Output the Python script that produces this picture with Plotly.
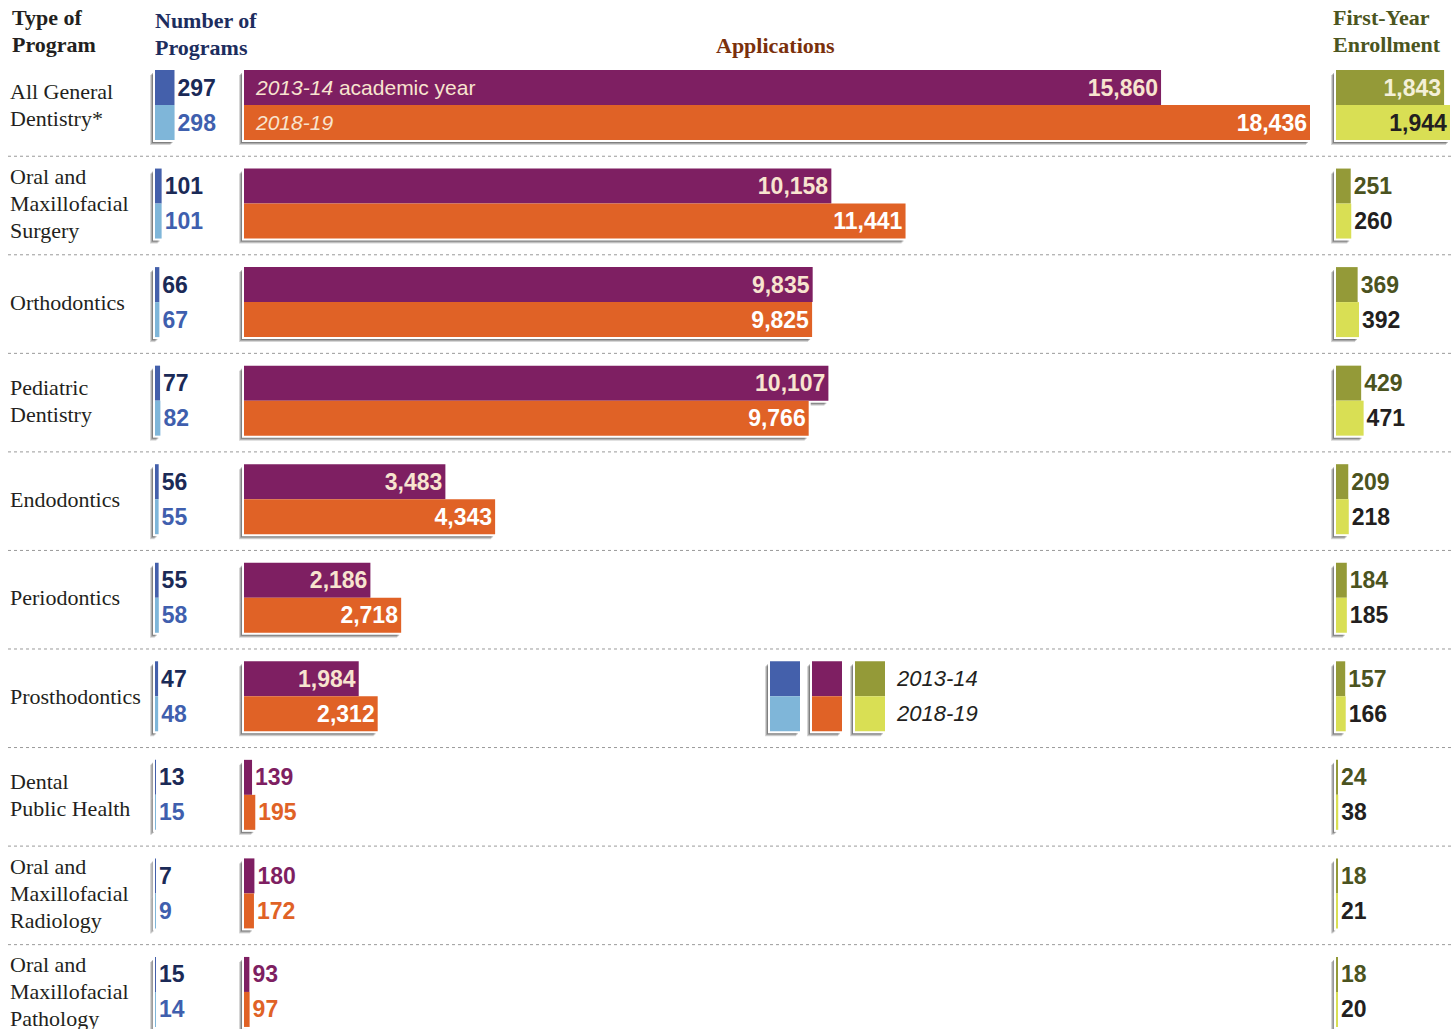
import plotly.graph_objects as go

# ---------------- data ----------------
categories = [["All General", "Dentistry*"], ["Oral and", "Maxillofacial", "Surgery"], ["Orthodontics"],
              ["Pediatric", "Dentistry"], ["Endodontics"], ["Periodontics"], ["Prosthodontics"],
              ["Dental", "Public Health"], ["Oral and", "Maxillofacial", "Radiology"],
              ["Oral and", "Maxillofacial", "Pathology"]]
programs_2013 = [297, 101, 66, 77, 56, 55, 47, 13, 7, 15]
programs_2018 = [298, 101, 67, 82, 55, 58, 48, 15, 9, 14]
apps_2013 = [15860, 10158, 9835, 10107, 3483, 2186, 1984, 139, 180, 93]
apps_2018 = [18436, 11441, 9825, 9766, 4343, 2718, 2312, 195, 172, 97]
enroll_2013 = [1843, 251, 369, 429, 209, 184, 157, 24, 18, 18]
enroll_2018 = [1944, 260, 392, 471, 218, 185, 166, 38, 21, 20]
years = ["2013-14", "2018-19"]

# ---------------- layout geometry ----------------
W, H = 1453, 1029
ROW0, PITCH, BARH = 105.0, 98.55, 35.0
bw = BARH / PITCH
rows = list(range(len(categories)))

panels = {
    "x":  dict(x0=155, x1=250, ppu=19.5 / 297),
    "x2": dict(x0=244, x1=1320, ppu=1066 / 18436),
    "x3": dict(x0=1336, x1=1453, ppu=114 / 1944),
}

NUMFONT = "Liberation Sans, Arial, sans-serif"
SERIF = "Liberation Serif, Times New Roman, serif"
NUMSIZE = 23

def py(i):
    return ROW0 + PITCH * i

def xp(px):
    return px / W

def yp(pyv):
    return 1 - pyv / H

fig = go.Figure()
shapes = []

def shadow(px0, py0, px1, py1):
    out = []
    for d, a in [(5, 0.16), (4, 0.2), (3, 0.25)]:
        out.append(dict(type="rect", xref="paper", yref="paper", layer="below",
                        x0=xp(px0 - d), x1=xp(px1 - d + 1), y0=yp(py0 + d), y1=yp(py1 + d),
                        line=dict(width=0), fillcolor=f"rgba(0,0,0,{a})"))
    return out

def white(px0, py0, px1, py1):
    return dict(type="rect", xref="paper", yref="paper", layer="below",
                x0=xp(px0 - 2), x1=xp(px1 + 2), y0=yp(py0 - 1), y1=yp(py1 + 2),
                line=dict(width=0), fillcolor="white")

def add_panel(ax, v13, v18, c13, c18, txt13, pos13, in13, out13, txt18, pos18, in18, out18):
    p = panels[ax]
    for vals, col, txt, pos, cin, cout, off in [
        (v13, c13, txt13, pos13, in13, out13, -bw),
        (v18, c18, txt18, pos18, in18, out18, 0.0),
    ]:
        fig.add_trace(go.Bar(
            x=vals, y=rows, orientation="h", width=bw, offset=off,
            marker=dict(color=col, line=dict(width=0)),
            text=txt, textposition=pos, insidetextanchor="end",
            insidetextfont=dict(family=NUMFONT, size=NUMSIZE, color=cin, weight="bold"),
            outsidetextfont=dict(family=NUMFONT, size=NUMSIZE, color=cout, weight="bold"),
            constraintext="none", cliponaxis=False,
            xaxis=ax, yaxis="y", showlegend=False, hoverinfo="skip"))
    sh, wh = [], []
    for i in rows:
        for vals, off in [(v13, -BARH), (v18, 0.0)]:
            a0 = py(i) + off
            a1 = a0 + BARH
            bx1 = p["x0"] + vals[i] * p["ppu"]
            sh += shadow(p["x0"], a0, bx1, a1)
            wh.append(white(p["x0"], a0, bx1, a1))
    shapes.extend(sh)
    shapes.extend(wh)

fmt = lambda v: f"{v:,}"

# Programs
add_panel("x", programs_2013, programs_2018, "#4460ab", "#7fb6d9",
          [fmt(v) for v in programs_2013], "outside", "#1b2a57", "#1b2a57",
          [fmt(v) for v in programs_2018], "outside", "#3f5fae", "#3f5fae")

# Applications
add_panel("x2", apps_2013, apps_2018, "#7e1f62", "#e06226",
          [fmt(v) for v in apps_2013], ["inside" if v > 1000 else "outside" for v in apps_2013],
          "#f8e4cf", "#7e1f62",
          [fmt(v) for v in apps_2018], ["inside" if v > 1000 else "outside" for v in apps_2018],
          "#ffffff", "#e06226")

# Enrollment
add_panel("x3", enroll_2013, enroll_2018, "#949a38", "#d9df54",
          [fmt(v) for v in enroll_2013], ["inside" if v > 1000 else "outside" for v in enroll_2013],
          "#f4f0d8", "#4b5320",
          [fmt(v) for v in enroll_2018], ["inside" if v > 1000 else "outside" for v in enroll_2018],
          "#231f20", "#231f20")

# separators
for i in rows[:-1]:
    shapes.append(dict(type="line", xref="paper", yref="paper", layer="below",
                       x0=xp(8), x1=1, y0=yp(py(i + 0.52)), y1=yp(py(i + 0.52)),
                       line=dict(color="#9a9a9a", width=1, dash="dot")))

# legend swatches (aligned with Prosthodontics row)
leg_row = 6
leg_cols = [(770, "#4460ab", "#7fb6d9"), (812, "#7e1f62", "#e06226"), (855, "#949a38", "#d9df54")]
for lx, c1, c2 in leg_cols:
    t0, t1 = py(leg_row) - BARH, py(leg_row) + BARH
    shapes += shadow(lx, t0, lx + 30, t1)
    shapes.append(white(lx, t0, lx + 30, t1))
for lx, c1, c2 in leg_cols:
    t0 = py(leg_row) - BARH
    for k, c in enumerate([c1, c2]):
        shapes.append(dict(type="rect", xref="paper", yref="paper", layer="above",
                           x0=xp(lx), x1=xp(lx + 30), y0=yp(t0 + k * BARH), y1=yp(t0 + (k + 1) * BARH),
                           line=dict(width=0), fillcolor=c))

annotations = []
# category labels (one annotation per line for tighter line spacing)
LINE = 27
for i, lines in enumerate(categories):
    n = len(lines)
    for k, t in enumerate(lines):
        yc = py(i) + (k - (n - 1) / 2) * LINE
        annotations.append(dict(text=t, xref="paper", yref="paper", x=xp(8), y=yp(yc),
                                xanchor="left", yanchor="middle", align="left", showarrow=False,
                                font=dict(family=SERIF, size=22, color="#231f20")))
# headers
hdr = [(["Type of", "Program"], 10, "#231f20", "left", 31),
       (["Number of", "Programs"], 153, "#1d2d5e", "left", 34),
       (["Applications"], 775, "#7a300c", "center", 45),
       (["First-Year", "Enrollment"], 1331, "#4b5520", "left", 31)]
for lines, x, col, anc, yc0 in hdr:
    n = len(lines)
    for k, t in enumerate(lines):
        yc = yc0 + (k - (n - 1) / 2) * LINE
        annotations.append(dict(text=f"<b>{t}</b>", xref="paper", yref="paper", x=xp(x), y=yp(yc),
                                xanchor=anc, yanchor="middle", align="left", showarrow=False,
                                font=dict(family=SERIF, size=22, color=col)))
# in-bar year labels
annotations.append(dict(text=f"<i>{years[0]}</i> academic year", xref="paper", yref="paper",
                        x=xp(253), y=yp(py(0) - BARH / 2), xanchor="left", yanchor="middle",
                        showarrow=False, font=dict(family=NUMFONT, size=21, color="#f8e4cf")))
annotations.append(dict(text=f"<i>{years[1]}</i>", xref="paper", yref="paper",
                        x=xp(253), y=yp(py(0) + BARH / 2), xanchor="left", yanchor="middle",
                        showarrow=False, font=dict(family=NUMFONT, size=21, color="#f8e4cf")))
# legend labels
for k, yv in enumerate(years):
    annotations.append(dict(text=f"<i>{yv}</i>", xref="paper", yref="paper",
                            x=xp(894), y=yp(py(leg_row) - BARH / 2 + k * BARH), xanchor="left",
                            yanchor="middle", showarrow=False,
                            font=dict(family=NUMFONT, size=22, color="#231f20")))

axcommon = dict(visible=False, showgrid=False, zeroline=False, fixedrange=True)
layout = dict(
    width=W, height=H, margin=dict(l=0, r=0, t=0, b=0),
    paper_bgcolor="white", plot_bgcolor="rgba(0,0,0,0)",
    barmode="overlay", showlegend=False,
    yaxis=dict(range=[(H - ROW0) / PITCH, -ROW0 / PITCH], domain=[0, 1], **axcommon),
    shapes=shapes, annotations=annotations,
)
for ax, p in panels.items():
    key = "xaxis" if ax == "x" else "xaxis" + ax[1:]
    layout[key] = dict(domain=[xp(p["x0"]), xp(p["x1"])],
                       range=[0, (p["x1"] - p["x0"]) / p["ppu"]], anchor="y", **axcommon)
fig.update_layout(**layout)

fig.write_html("out.html", config={"displayModeBar": False},
               post_script="document.body.style.margin='0';")
